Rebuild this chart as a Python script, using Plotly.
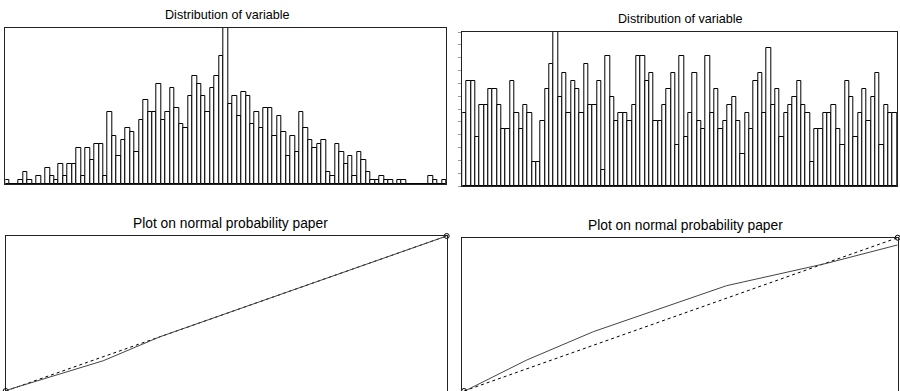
import plotly.graph_objects as go

# ---------------- data ----------------
left_counts = [1,0,0,1,3,1,0,2,0,4,
               2,1,5,2,5,5,9,2,9,6,
               10,10,2,18,12,7,11,14,13,8,
               16,21,18,18,25,16,18,24,19,15,
               14,22,27,25,22,18,24,27,32,45,
               20,22,17,23,22,15,18,14,19,19,
               12,17,13,7,12,8,18,14,11,9,
               10,11,3,2,10,8,5,7,2,8,
               6,3,1,1,2,1,1,0,1,1,
               0,0,0,0,0,2,1,0,1]
right_counts = [9,13,13,6,10,10,12,12,10,7,7,13,9,7,10,9,3,3,8,12,15,22,11,14,9,13,12,9,15,10,10,13,
                2,
                16,11,8,9,9,8,10,16,16,13,14,8,8,10,12,14,5,16,6,9,14,8,7,16,9,12,7,8,10,11,8,4,9,7,
                13,14,9,17,10,12,6,9,10,11,13,10,9,3,7,7,9,9,10,7,5,13,11,6,9,12,8,11,14,5,10,9,9]
left_bins = list(range(len(left_counts)))
right_bins = list(range(len(right_counts)))

# normal probability plots (normalised coordinates)
npp_left_x = [0.002, 0.221, 0.350, 1.0]
npp_left_y = [0.005, 0.195, 0.350, 1.0]
npp_left_ref_x = [0.0, 1.0]
npp_left_ref_y = [0.0, 1.0]

npp_right_x = [0.010, 0.148, 0.301, 0.607, 0.837, 1.0]
npp_right_y = [0.006, 0.202, 0.387, 0.687, 0.833, 0.953]
npp_right_ref_x = [0.004, 1.0]
npp_right_ref_y = [0.0, 1.0]

hist_title = "Distribution of variable"
npp_title = "Plot on normal probability paper"

W, H = 900, 391
def px(x): return x / W
def py(y): return 1 - y / H

FONT = "Liberation Sans, Arial, Helvetica, sans-serif"

fig = go.Figure()

bar_style = dict(marker=dict(color="white", line=dict(color="black", width=1)), showlegend=False, hoverinfo="skip")
fig.add_trace(go.Bar(x=left_bins, y=left_counts, xaxis="x", yaxis="y", **bar_style))
fig.add_trace(go.Bar(x=right_bins, y=right_counts, xaxis="x2", yaxis="y2", **bar_style))

line_col = "#444444"
fig.add_trace(go.Scatter(x=npp_left_ref_x, y=npp_left_ref_y, xaxis="x3", yaxis="y3", mode="lines+markers",
                         line=dict(color="black", width=1, dash="3px,3px"),
                         marker=dict(symbol="circle-open", size=5, color="black", line=dict(width=1)),
                         cliponaxis=False, showlegend=False))
fig.add_trace(go.Scatter(x=npp_left_x, y=npp_left_y, xaxis="x3", yaxis="y3", mode="lines",
                         line=dict(color=line_col, width=1), showlegend=False))
fig.add_trace(go.Scatter(x=npp_right_ref_x, y=npp_right_ref_y, xaxis="x4", yaxis="y4", mode="lines+markers",
                         line=dict(color="black", width=1, dash="3px,3px"),
                         marker=dict(symbol="circle-open", size=5, color="black", line=dict(width=1)),
                         cliponaxis=False, showlegend=False))
fig.add_trace(go.Scatter(x=npp_right_x, y=npp_right_y, xaxis="x4", yaxis="y4", mode="lines",
                         line=dict(color=line_col, width=1), showlegend=False))

frame = dict(showline=True, linecolor="#222222", linewidth=1, showgrid=False, zeroline=False,
             showticklabels=False, ticks="")

layout = dict(
    width=W, height=H, margin=dict(l=0, r=0, t=0, b=0),
    paper_bgcolor="white", plot_bgcolor="white",
    bargap=0, showlegend=False,
    font=dict(family=FONT, size=12, color="black"),
    xaxis=dict(domain=[px(5.3), px(446.3)], range=[-0.5, len(left_counts) - 0.5], anchor="y", mirror=True, **frame),
    yaxis=dict(domain=[py(184), py(28)], range=[0, 39], anchor="x", mirror=True, **frame),
    xaxis2=dict(domain=[px(462.3), px(897)], range=[-0.5, len(right_counts) - 0.5], anchor="y2", mirror=True, **frame),
    yaxis2=dict(domain=[py(186), py(32)], range=[0, 19], anchor="x2", mirror=True,
                **{**frame, "ticks": "outside", "tick0": 0, "dtick": 19 / 12, "ticklen": 3,
                   "tickcolor": "#999999", "tickwidth": 1}),
    xaxis3=dict(domain=[px(5.7), px(446.7)], range=[0, 1], anchor="y3", side="top", mirror=False, **frame),
    yaxis3=dict(domain=[0, py(236)], range=[0, 1], anchor="x3", mirror=True, **frame),
    xaxis4=dict(domain=[px(462.3), px(897.7)], range=[0, 1], anchor="y4", side="top", mirror=False, **frame),
    yaxis4=dict(domain=[0, py(237.7)], range=[0, 1], anchor="x4", mirror=True, **frame),
)
fig.update_layout(**layout)

ann = [
    (hist_title, 227.0, 15.5, 12.6),
    (hist_title, 680.5, 19.0, 12.6),
    (npp_title, 230.8, 223.0, 13.8),
    (npp_title, 685.0, 225.5, 13.8),
]
for text, x, y, fs in ann:
    fig.add_annotation(text=text, x=px(x), y=py(y), xref="paper", yref="paper",
                       xanchor="center", yanchor="middle", showarrow=False,
                       font=dict(family=FONT, size=fs, color="black"))

fig.write_html("out.html")
